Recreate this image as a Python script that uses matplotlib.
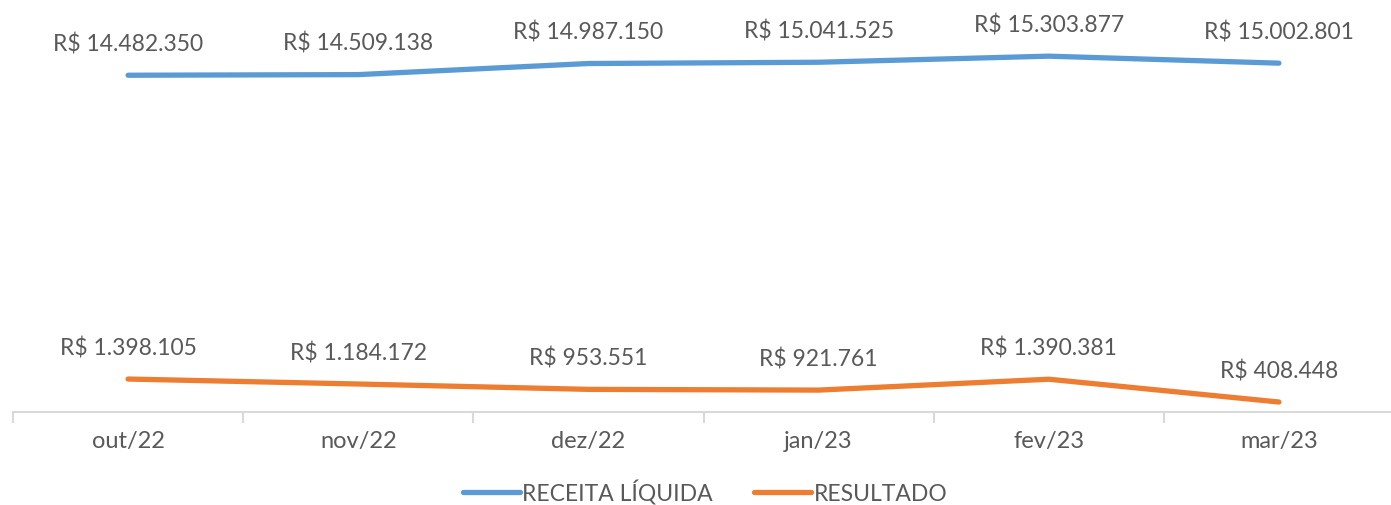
import matplotlib
matplotlib.use('Agg')
import matplotlib.pyplot as plt
import numpy as np

meses = ['out/22', 'nov/22', 'dez/22', 'jan/23', 'fev/23', 'mar/23']
receita = [14482350, 14509138, 14987150, 15041525, 15303877, 15002801]
resultado = [1398105, 1184172, 953551, 921761, 1390381, 408448]

azul = '#5B9BD5'
laranja = '#ED7D31'
cinza = '#595959'

plt.rcParams['font.family'] = ['Lato', 'DejaVu Sans']

W, H = 1391, 506
fig = plt.figure(figsize=(W / 100, H / 100), dpi=100)
ax = fig.add_axes([13 / W, (H - 412.5) / H, 1381 / W, (412.5 - 41) / H])

x = np.arange(len(meses))
ax.plot(x, receita, color=azul, lw=3.8, solid_capstyle='round', label='RECEITA LÍQUIDA')
ax.plot(x, resultado, color=laranja, lw=3.8, solid_capstyle='round', label='RESULTADO')

def fmt(v):
  return 'R$ ' + '{:,}'.format(v).replace(',', '.')

for serie in (receita, resultado):
  for xi, v in zip(x, serie):
    ax.annotate(fmt(v), (xi, v), xytext=(0, 32), textcoords='offset pixels',
                ha='center', va='center', fontsize=16.5, color=cinza, annotation_clip=False)

ax.set_xlim(-0.5, len(meses) - 0.5)
ax.set_ylim(0, 16e6)
for s in ['top', 'right', 'left']:
  ax.spines[s].set_visible(False)
ax.spines['bottom'].set_color('#D9D9D9')
ax.spines['bottom'].set_linewidth(1.5)
ax.set_yticks([])
ax.set_xticks(x)
ax.set_xticklabels(meses, fontsize=17, color=cinza)
ax.tick_params(axis='x', which='major', length=0, pad=13)
ax.set_xticks(np.arange(-0.5, len(meses), 1), minor=True)
ax.tick_params(axis='x', which='minor', length=8, width=1.5, color='#D9D9D9', direction='out')

leg = fig.legend(loc='center', bbox_to_anchor=(705 / W, 1 - 493 / H), ncol=2, frameon=False,
                 fontsize=16.5, handlelength=2.5, handletextpad=0.1, columnspacing=1.8,
                 labelcolor=cinza, borderpad=0.2)

plt.savefig('out.png', dpi=100)
